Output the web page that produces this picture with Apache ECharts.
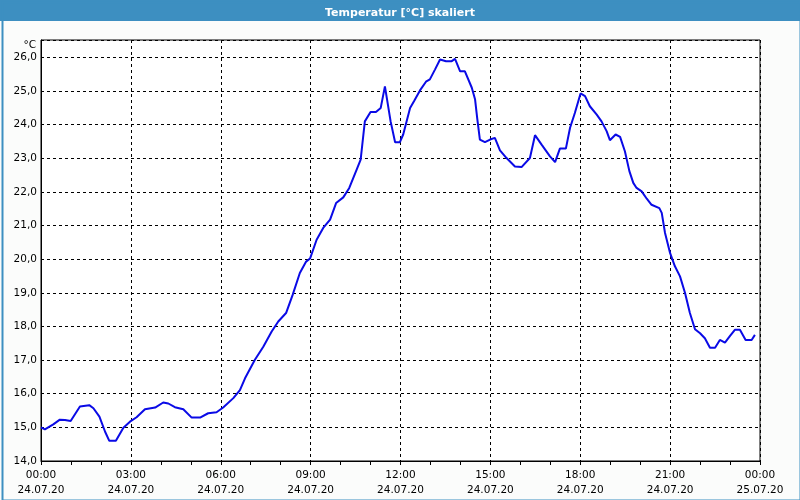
<!DOCTYPE html>
<html>
<head>
<meta charset="utf-8">
<script src="https://cdn.jsdelivr.net/npm/echarts@6/dist/echarts.min.js"></script>
<style>
html,body{margin:0;padding:0;background:#fbfcfb;}
#chart{width:800px;height:500px;}
</style>
</head>
<body>
<div id="chart"></div>
<script>
// time in hours since 24.07.20 00:00
const hours = [0.00,0.13,0.41,0.63,0.80,0.99,1.30,1.61,1.75,1.95,2.14,2.28,2.50,2.75,2.97,3.19,3.47,3.81,4.08,4.25,4.47,4.75,5.03,5.31,5.58,5.86,6.08,6.42,6.64,6.81,7.14,7.42,7.70,7.92,8.18,8.40,8.64,8.85,8.98,9.20,9.42,9.65,9.85,10.09,10.29,10.54,10.67,10.81,11.00,11.18,11.34,11.48,11.67,11.82,11.98,12.09,12.32,12.45,12.65,12.85,12.98,13.15,13.32,13.52,13.71,13.82,13.99,14.15,14.38,14.49,14.56,14.65,14.82,14.99,15.15,15.32,15.54,15.82,16.04,16.32,16.49,16.71,16.99,17.16,17.32,17.52,17.66,17.82,18.01,18.16,18.32,18.55,18.71,18.88,18.99,19.18,19.33,19.49,19.64,19.77,19.88,20.05,20.22,20.38,20.64,20.72,20.83,21.00,21.16,21.33,21.50,21.66,21.83,22.00,22.16,22.33,22.50,22.66,22.83,23.00,23.16,23.33,23.52,23.72,23.83];
const temps = [15.00,14.94,15.09,15.23,15.22,15.19,15.62,15.66,15.57,15.32,14.87,14.60,14.60,14.99,15.17,15.30,15.54,15.59,15.74,15.71,15.60,15.54,15.29,15.29,15.42,15.45,15.59,15.87,16.11,16.46,17.01,17.40,17.85,18.15,18.40,18.94,19.59,19.93,20.02,20.58,20.93,21.18,21.67,21.84,22.12,22.67,22.96,24.10,24.38,24.38,24.50,25.14,24.10,23.48,23.48,23.71,24.50,24.70,25.02,25.28,25.35,25.64,25.94,25.89,25.89,25.96,25.59,25.59,25.10,24.75,24.20,23.56,23.48,23.56,23.61,23.24,23.01,22.76,22.74,23.01,23.69,23.41,23.06,22.89,23.29,23.29,23.91,24.35,24.93,24.85,24.55,24.30,24.10,23.81,23.54,23.71,23.64,23.21,22.62,22.27,22.12,22.02,21.80,21.62,21.52,21.38,20.78,20.18,19.79,19.49,18.99,18.40,17.92,17.80,17.65,17.37,17.37,17.60,17.52,17.72,17.90,17.90,17.60,17.60,17.75];
const xTickHours = [0,3,6,9,12,15,18,21,24];
const dateLabels = ['24.07.20','25.07.20'];
const yTicks = [14,15,16,17,18,19,20,21,22,23,24,25,26];
const titleText = 'Temperatur [°C] skaliert';
const unitText = '°C';

const chart = echarts.init(document.getElementById('chart'), null, {renderer:'canvas'});
const font = 'DejaVu Sans';
const pad = n => (n < 10 ? '0' : '') + n;

chart.setOption({
  backgroundColor: '#fbfcfb',
  animation: false,
  title: {
    text: titleText,
    left: 'center',
    top: 3,
    textStyle: {color:'#ffffff', fontFamily: font, fontWeight:'bold', fontSize: 11}
  },
  graphic: [
    {type:'rect', left:0, top:0, shape:{width:800, height:21}, style:{fill:'#3d8fc1'}, z:-1, silent:true},
    {type:'rect', left:0, top:0, shape:{x:1, y:1, width:798, height:498}, style:{fill:'none', stroke:'#3d8fc1', lineWidth:2}, z:100, silent:true}
  ],
  grid: {left:41, right:40, top:40, bottom:39, show:true, backgroundColor:'#ffffff', borderColor:'#000', borderWidth:1},
  xAxis: {
    type: 'value',
    min: xTickHours[0],
    max: xTickHours[xTickHours.length-1],
    interval: 3,
    axisLine: {show:true, lineStyle:{color:'#000', width:1}},
    axisTick: {show:true, length:4, lineStyle:{color:'#000'}},
    minorTick: {show:true, splitNumber:3, length:4, lineStyle:{color:'#000'}},
    splitLine: {show:true, lineStyle:{color:'#000', type:[3,3], width:1}},
    axisLabel: {
      color:'#000', fontFamily: font, fontSize: 10.5, lineHeight: 15, margin: 7,
      formatter: v => {
        if (xTickHours.indexOf(v) < 0) return '';
        const h = v % 24;
        const d = v < 24 ? dateLabels[0] : dateLabels[1];
        return pad(h) + ':00\n' + d;
      }
    }
  },
  yAxis: {
    type: 'value',
    min: yTicks[0],
    max: 26.52,
    interval: 1,
    name: unitText,
    nameLocation: 'end',
    nameGap: -5,
    nameTextStyle: {color:'#000', fontFamily: font, fontSize: 10.5, align:'right', verticalAlign:'middle', padding:[0,5,0,0]},
    axisLine: {show:true, lineStyle:{color:'#000', width:1}},
    axisTick: {show:false},
    splitLine: {show:true, lineStyle:{color:'#000', type:[3,3], width:1}},
    axisLabel: {
      color:'#000', fontFamily: font, fontSize: 10.5, margin: 4,
      formatter: v => (yTicks.indexOf(v) < 0 ? '' : v.toFixed(1).replace('.', ','))
    }
  },
  series: [{
    type: 'line',
    data: hours.map((h, i) => [h, temps[i]]),
    showSymbol: false,
    symbol: 'none',
    smooth: false,
    lineStyle: {color:'#0a0ae6', width:2},
    z: 5
  }]
});
</script>
</body>
</html>
